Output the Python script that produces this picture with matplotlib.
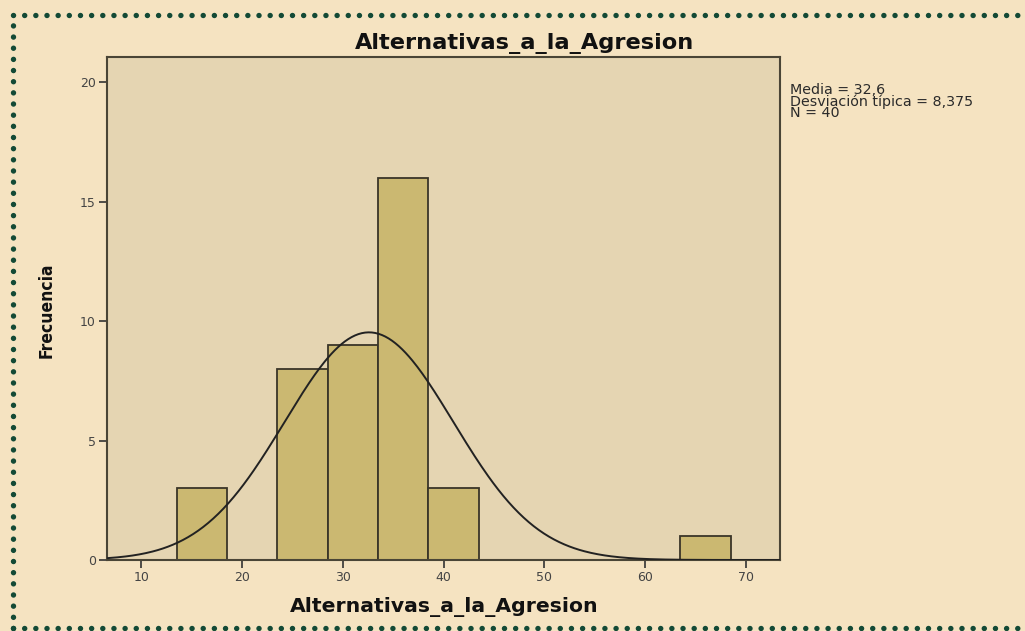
import numpy as np
import matplotlib
matplotlib.use("Agg")
import matplotlib.pyplot as plt
from matplotlib.lines import Line2D

# Data
bin_edges = [13.5, 18.5, 23.5, 28.5, 33.5, 38.5, 43.5, 48.5, 53.5, 58.5, 63.5, 68.5]
counts = [3, 0, 8, 9, 16, 3, 0, 0, 0, 0, 1]
mean_val = 32.6
sd_val = 8.375
n_val = 40
x_ticks = [10, 20, 30, 40, 50, 60, 70]
y_ticks = [0, 5, 10, 15, 20]

fig_bg = "#F5E3C1"
ax_bg = "#E5D5B2"
bar_col = "#CBB871"
edge_col = "#3a3528"

fig = plt.figure(figsize=(10.25, 6.31), dpi=100, facecolor=fig_bg)
ax = fig.add_axes([0.1044, 0.1125, 0.6566, 0.7972])
ax.set_facecolor(ax_bg)

widths = np.diff(bin_edges)
ax.bar(bin_edges[:-1], counts, width=widths, align="edge", color=bar_col,
       edgecolor=edge_col, linewidth=1.3, zorder=2)

ax.set_xlim(6.6, 73.4)
ax.set_ylim(0, 21.05)
xs = np.linspace(6.6, 73.4, 400)
bw = widths[0]
ys = n_val * bw / (sd_val * np.sqrt(2 * np.pi)) * np.exp(-0.5 * ((xs - mean_val) / sd_val) ** 2)
ax.plot(xs, ys, color="#222222", linewidth=1.4, zorder=3)

ax.set_xticks(x_ticks)
ax.set_yticks(y_ticks)
ax.tick_params(direction="out", length=6, width=1.2, color="#333333",
               labelsize=9, labelcolor="#444444", pad=2)
for s in ax.spines.values():
    s.set_color("#4a4536")
    s.set_linewidth(1.5)

fig.text(525 / 1025, 1 - 43 / 631, "Alternativas_a_la_Agresion", fontsize=16.2,
         fontweight="bold", color="#111111", ha="center", va="center")
fig.text(444 / 1025, 1 - 607 / 631, "Alternativas_a_la_Agresion", fontsize=14.7,
         fontweight="bold", color="#111111", ha="center", va="center")
fig.text(47 / 1025, 1 - 310 / 631, "Frecuencia", fontsize=12.5, fontweight="bold",
         color="#111111", fontstretch="condensed", rotation=90,
         ha="center", va="center")

fig.text(0.771, 0.868, "Media = 32,6\nDesviación típica = 8,375\nN = 40",
         fontsize=10.3, family="DejaVu Sans", color="#2a2a2a", va="top",
         ha="left", linespacing=0.74)

# dotted border
dot_kw = dict(color="#134a36", linestyle=(0, (0.01, 2.05)), linewidth=3.9,
              solid_capstyle="round", dash_capstyle="round", transform=fig.transFigure)
y_top = 1 - 15 / 631
y_bot = 1 - 628 / 631
x_left = 13 / 1025
fig.add_artist(Line2D([x_left, 1.0], [y_top, y_top], **dot_kw))
fig.add_artist(Line2D([x_left, 1.0], [y_bot, y_bot], **dot_kw))
fig.add_artist(Line2D([x_left, x_left], [y_bot, y_top], **dot_kw))

fig.savefig("out.png", dpi=100, facecolor=fig_bg)
